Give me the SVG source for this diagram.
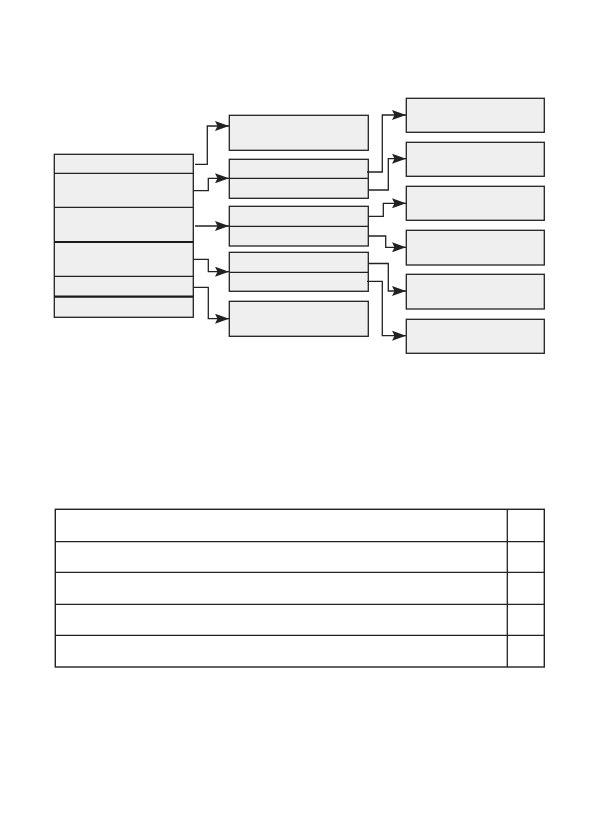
<svg xmlns="http://www.w3.org/2000/svg" width="595" height="839" viewBox="0 0 595 839">
<style>
.box{fill:#efefef;stroke:#222;stroke-width:1.3}
.div{stroke:#222;stroke-width:1.3;fill:none}
.thick{stroke:#1a1a1a;stroke-width:2.2;fill:none}
.con{stroke:#222;stroke-width:1.3;fill:none}
.tbl{fill:#fff;stroke:#222;stroke-width:1.4}
</style>
<defs>
<marker id="arr" viewBox="0 0 14 10" refX="14" refY="5" markerWidth="14" markerHeight="10" markerUnits="userSpaceOnUse" orient="auto">
<path d="M0,0 L14,5 L0,10 L2.5,5 Z" fill="#222"/>
</marker>
</defs>
<rect width="595" height="839" fill="#fff"/>
<g id="left-node">
<rect class="box" x="54.3" y="154.3" width="139" height="163"/>
<line class="div" x1="54.3" y1="173.3" x2="193.3" y2="173.3"/>
<line class="div" x1="54.3" y1="207.3" x2="193.3" y2="207.3"/>
<line class="thick" x1="54.3" y1="242" x2="193.3" y2="242"/>
<line class="div" x1="54.3" y1="276.3" x2="193.3" y2="276.3"/>
<line class="thick" x1="54.3" y1="296.7" x2="193.3" y2="296.7"/>
</g>
<g id="mid-1"><rect class="box" x="229.3" y="115.3" width="139" height="35"/></g>
<g id="mid-2"><rect class="box" x="229.3" y="159.3" width="139" height="39"/><line class="div" x1="229.3" y1="178.3" x2="368.3" y2="178.3"/></g>
<g id="mid-3"><rect class="box" x="229.3" y="206.3" width="139" height="39.7"/><line class="div" x1="229.3" y1="226.3" x2="368.3" y2="226.3"/></g>
<g id="mid-4"><rect class="box" x="229.3" y="252.3" width="139" height="39"/><line class="div" x1="229.3" y1="272.3" x2="368.3" y2="272.3"/></g>
<g id="mid-5"><rect class="box" x="229.3" y="301.3" width="139" height="35"/></g>
<g id="right-1"><rect class="box" x="406.3" y="98.3" width="138" height="34"/></g>
<g id="right-2"><rect class="box" x="406.3" y="142.3" width="138" height="34"/></g>
<g id="right-3"><rect class="box" x="406.3" y="186.3" width="138" height="34"/></g>
<g id="right-4"><rect class="box" x="406.3" y="230.3" width="138" height="34.7"/></g>
<g id="right-5"><rect class="box" x="406.3" y="274.3" width="138" height="34.7"/></g>
<g id="right-6"><rect class="box" x="406.3" y="319.3" width="138" height="34"/></g>
<g id="connectors">
<polyline class="con" marker-end="url(#arr)" points="195,164.3 207.3,164.3 207.3,126 229,126"/>
<polyline class="con" marker-end="url(#arr)" points="193.3,190.7 208.3,190.7 208.3,178.3 229,178.3"/>
<polyline class="con" marker-end="url(#arr)" points="195,226 229,226"/>
<polyline class="con" marker-end="url(#arr)" points="193.3,259.3 208.3,259.3 208.3,271.7 229,271.7"/>
<polyline class="con" marker-end="url(#arr)" points="193.3,287.3 208.3,287.3 208.3,318.7 229,318.7"/>
<polyline class="con" marker-end="url(#arr)" points="367,172 382.3,172 382.3,115 406,115"/>
<polyline class="con" marker-end="url(#arr)" points="368.3,190 388.3,190 388.3,158.7 406,158.7"/>
<polyline class="con" marker-end="url(#arr)" points="368.3,216.3 383.3,216.3 383.3,203.3 406,203.3"/>
<polyline class="con" marker-end="url(#arr)" points="368.3,236 385.7,236 385.7,247.3 406,247.3"/>
<polyline class="con" marker-end="url(#arr)" points="368.3,263.5 388.3,263.5 388.3,291 406,291"/>
<polyline class="con" marker-end="url(#arr)" points="367,281.3 382.3,281.3 382.3,335.7 406,335.7"/>
</g>
<g id="table">
<rect class="tbl" x="55.3" y="509.3" width="489" height="157.7"/>
<line class="div" x1="507.3" y1="509.3" x2="507.3" y2="667"/>
<line class="div" x1="55.3" y1="541.7" x2="544.3" y2="541.7"/>
<line class="div" x1="55.3" y1="572.3" x2="544.3" y2="572.3"/>
<line class="div" x1="55.3" y1="604.3" x2="544.3" y2="604.3"/>
<line class="div" x1="55.3" y1="635.3" x2="544.3" y2="635.3"/>
</g>
</svg>
